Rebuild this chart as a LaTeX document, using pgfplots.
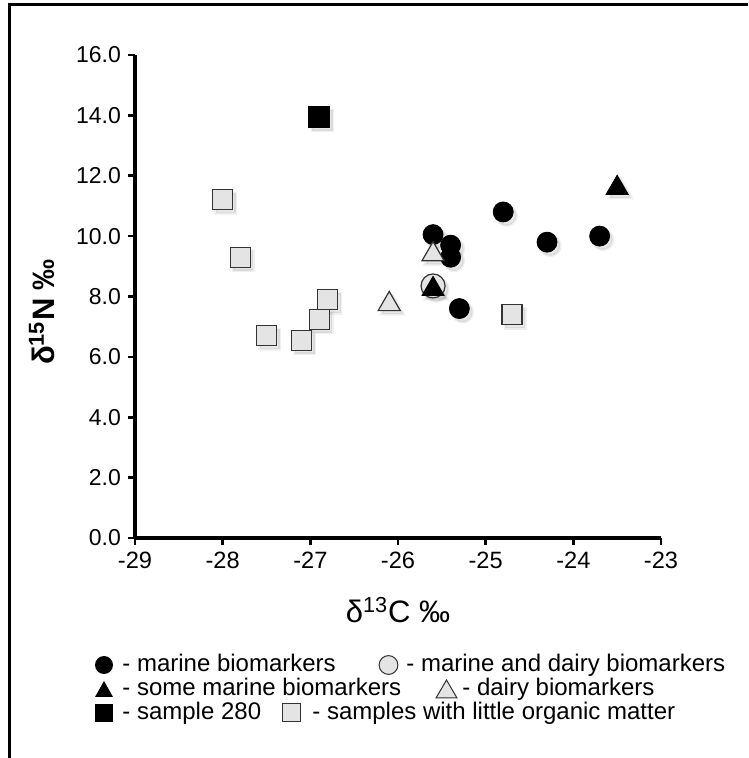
\documentclass[border=0pt]{standalone}
\usepackage{fontspec}
\setmainfont{Liberation Sans}
\usepackage{pgfplots}
\usepackage{pgfplotstable}
\pgfplotsset{compat=1.18}
\definecolor{lgray}{HTML}{E4E4E4}
\definecolor{edge}{HTML}{333333}

\pgfplotstableread{
x y
-25.6 10.05
-25.4 9.7
-25.4 9.3
-25.3 7.6
-24.8 10.8
-24.3 9.8
-23.7 10.0
}\marine
\pgfplotstableread{
x y
-25.6 8.35
}\mdairy
\pgfplotstableread{
x y
-25.6 8.35
-23.5 11.7
}\somemarine
\pgfplotstableread{
x y
-25.6 9.5
-26.1 7.85
}\dairy
\pgfplotstableread{
x y
-26.9 13.95
}\sample
\pgfplotstableread{
x y
-28.0 11.2
-27.8 9.3
-26.8 7.9
-26.9 7.25
-27.5 6.7
-27.1 6.55
-24.7 7.4
}\little

\tikzset{lt/.style={anchor=west, inner sep=0pt, font=\fontsize{12}{12}\selectfont, text height=8.6pt, text depth=2.4pt},
  shad/.style={draw=black, draw opacity=0.06, line width=1.4pt, fill=black, fill opacity=0.09, xshift=1.6pt, yshift=-1.8pt}}

\begin{document}
\begin{tikzpicture}
\path[use as bounding box] (0,0) rectangle (374pt,379pt);
\draw[line width=1.5pt] (4.5pt,0) -- (4.5pt,376.5pt) -- (374pt,376.5pt);
\begin{axis}[
  at={(67.5pt,110pt)}, anchor=south west,
  scale only axis, width=263pt, height=241.5pt,
  xmin=-29, xmax=-23, ymin=0, ymax=16,
  axis lines=left,
  axis line style={-, line width=1.6pt},
  xtick={-29,-28,...,-23}, ytick={0,2,...,16},
  tick align=outside, major tick length=3.5pt,
  tick style={line width=1.3pt, black},
  xticklabel style={font=\fontsize{11.8}{12}\selectfont, /pgf/number format/assume math mode=true},
  yticklabel style={font=\fontsize{11.5}{12}\selectfont, /pgf/number format/.cd, fixed, fixed zerofill, precision=1, assume math mode=true},
  xlabel={δ\textsuperscript{13}C ‰},
  xlabel style={at={(axis description cs:0.5,-0.149)}, anchor=center, font=\fontsize{15.5}{16}\selectfont},
  ylabel={δ\textsuperscript{15}N ‰},
  ylabel style={at={(axis description cs:-0.177,0.468)}, anchor=center, font=\fontsize{15.5}{16}\selectfont\bfseries},
  clip=false,
]
% shadows
\addplot[only marks, forget plot, mark=*, mark size=5pt, mark options={shad}] table {\marine};
\addplot[only marks, forget plot, mark=*, mark size=6pt, mark options={shad}] table {\mdairy};
\addplot[only marks, forget plot, mark=triangle*, mark size=6.4pt, mark options={shad, yshift=-1.6pt}] table {\somemarine};
\addplot[only marks, forget plot, mark=triangle*, mark size=6.4pt, mark options={shad, yshift=-1.6pt}] table {\dairy};
\addplot[only marks, forget plot, mark=square*, mark size=5.2pt, mark options={shad}] table {\sample};
\addplot[only marks, forget plot, mark=square*, mark size=5pt, mark options={shad}] table {\little};
% marks
\addplot[only marks, mark=*, mark size=5pt, mark options={draw=black, fill=black}] table {\marine};
\addplot[only marks, mark=*, mark size=6pt, mark options={draw=edge, fill=lgray, line width=0.6pt}] table {\mdairy};
\addplot[only marks, mark=triangle*, mark size=6.4pt, mark options={draw=black, fill=black, yshift=-1.6pt}] table {\somemarine};
\addplot[only marks, mark=triangle*, mark size=6.4pt, mark options={draw=edge, fill=lgray, line width=0.6pt, yshift=-1.6pt}] table {\dairy};
\addplot[only marks, mark=square*, mark size=5.2pt, mark options={draw=black, fill=black}] table {\sample};
\addplot[only marks, mark=square*, mark size=5pt, mark options={draw=edge, fill=lgray, line width=0.6pt}] table {\little};
\end{axis}
% legend
\fill (52pt,46.5pt) circle (4.5pt);
\node[lt] at (61pt,46.5pt) {- marine biomarkers};
\draw[edge, fill=lgray, line width=0.5pt] (194.25pt,46.5pt) circle (4.7pt);
\node[lt] at (203pt,46.5pt) {- marine and dairy biomarkers};
\fill (47.5pt,30.5pt) -- (56.5pt,30.5pt) -- (52pt,38.5pt) -- cycle;
\node[lt] at (61pt,34.5pt) {- some marine biomarkers};
\draw[edge, fill=lgray, line width=0.5pt] (218pt,30pt) -- (228.5pt,30pt) -- (223.25pt,39pt) -- cycle;
\node[lt] at (231pt,34.5pt) {- dairy biomarkers};
\fill (47.5pt,18pt) rectangle (56.5pt,27pt);
\node[lt] at (61pt,22.5pt) {- sample 280};
\draw[edge, fill=lgray, line width=0.5pt] (141pt,18pt) rectangle (150pt,27pt);
\node[lt] at (156pt,22.5pt) {- samples with little organic matter};
\end{tikzpicture}
\end{document}
